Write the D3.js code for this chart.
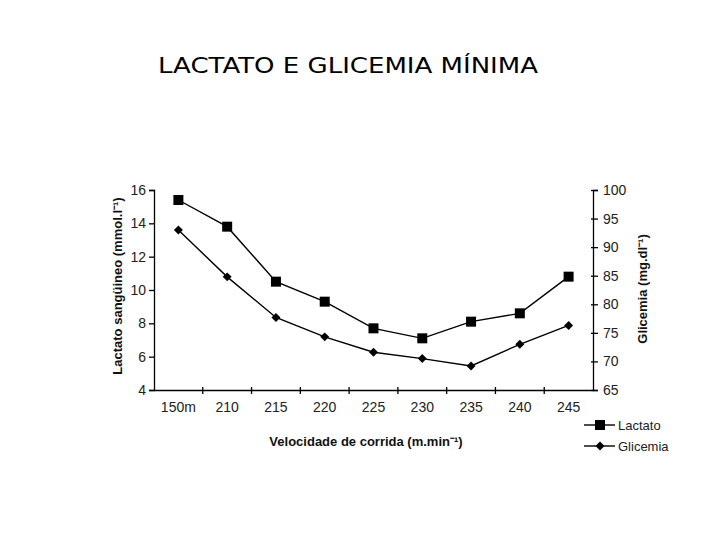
<!DOCTYPE html>
<html><head><meta charset="utf-8">
<script src="https://cdn.jsdelivr.net/npm/d3@7"></script>
<style>body{margin:0;background:#fff}</style>
</head><body>
<svg id="c" width="720" height="540"></svg>
<script>
const categories = ["150m","210","215","220","225","230","235","240","245"];
const lactato = [15.4,13.8,10.5,9.3,7.7,7.1,8.1,8.6,10.8];
const glicemia = [93,84.8,77.7,74.3,71.6,70.5,69.2,73.0,76.3];
const leftTicks = [4,6,8,10,12,14,16];
const rightTicks = [65,70,75,80,85,90,95,100];

const svg = d3.select("#c");
const L = 154, R = 593, T = 190, B = 390;
const x = d3.scaleBand().domain(categories).range([L,R]);
const yL = d3.scaleLinear().domain([4,16]).range([B,T]);
const yR = d3.scaleLinear().domain([65,100]).range([B,T]);
const font = "Liberation Sans, Arial, sans-serif";

svg.append("text").attr("x",158).attr("y",73).attr("font-family","DejaVu Sans, sans-serif")
  .attr("font-size",20.5).attr("fill","#000").attr("textLength",380).attr("lengthAdjust","spacingAndGlyphs")
  .text("LACTATO E GLICEMIA MÍNIMA");

// axes
const gL = svg.append("g").attr("transform",`translate(${L},0)`)
  .call(d3.axisLeft(yL).tickValues(leftTicks).tickSize(5).tickPadding(3));
const gR = svg.append("g").attr("transform",`translate(${R},0)`)
  .call(d3.axisRight(yR).tickValues(rightTicks).tickSize(5).tickPadding(5));
const gX = svg.append("g").attr("transform",`translate(0,${B})`)
  .call(d3.axisBottom(x).tickSize(0).tickPadding(12));
[gL,gR,gX].forEach(g=>{
  g.select(".domain").attr("stroke","#000").attr("stroke-width",1.3);
  g.selectAll(".tick line").attr("stroke","#000").attr("stroke-width",1.3);
  g.selectAll("text").attr("font-family",font).attr("font-size",14).attr("fill","#222");
});
gL.selectAll(".tick line").attr("x1",1);
gR.selectAll(".tick line").attr("x1",-2);
// x ticks at band boundaries
const bounds = categories.slice(1).map(c=>x(c));
gX.selectAll(".bt").data(bounds).enter().append("line")
  .attr("x1",d=>d).attr("x2",d=>d).attr("y1",-3).attr("y2",4)
  .attr("stroke","#000").attr("stroke-width",1.3);

// axis titles
svg.append("text").attr("transform","translate(122,286) rotate(-90)").attr("text-anchor","middle")
  .attr("font-family",font).attr("font-weight","bold").attr("font-size",13).attr("fill","#111")
  .text("Lactato sangüineo (mmol.l⁻¹)");
svg.append("text").attr("transform","translate(647,289) rotate(-90)").attr("text-anchor","middle")
  .attr("font-family",font).attr("font-weight","bold").attr("font-size",13).attr("fill","#111")
  .text("Glicemia (mg.dl⁻¹)");
svg.append("text").attr("x",366).attr("y",446).attr("text-anchor","middle")
  .attr("font-family",font).attr("font-weight","bold").attr("font-size",13).attr("fill","#111")
  .text("Velocidade de corrida (m.min⁻¹)");

const cx = c => x(c) + x.bandwidth()/2;
// lines
svg.append("path").datum(lactato).attr("fill","none").attr("stroke","#000").attr("stroke-width",1.4)
  .attr("d",d3.line().x((d,i)=>cx(categories[i])).y(d=>yL(d)));
svg.append("path").datum(glicemia).attr("fill","none").attr("stroke","#000").attr("stroke-width",1.4)
  .attr("d",d3.line().x((d,i)=>cx(categories[i])).y(d=>yR(d)));
// markers
const sq = d3.symbol().type(d3.symbolSquare).size(100);
const dm = d3.symbol().type(d3.symbolSquare).size(40);
svg.selectAll(".ml").data(lactato).enter().append("path")
  .attr("transform",(d,i)=>`translate(${cx(categories[i])},${yL(d)})`).attr("d",sq).attr("fill","#000");
svg.selectAll(".mg").data(glicemia).enter().append("path")
  .attr("transform",(d,i)=>`translate(${cx(categories[i])},${yR(d)}) rotate(45)`).attr("d",dm).attr("fill","#000");

// legend
const leg = [{n:"Lactato",s:sq,y:425,r:0},{n:"Glicemia",s:dm,y:446,r:45}];
leg.forEach(l=>{
  svg.append("line").attr("x1",584).attr("x2",615).attr("y1",l.y).attr("y2",l.y).attr("stroke","#000").attr("stroke-width",1.4);
  svg.append("path").attr("transform",`translate(600,${l.y}) rotate(${l.r})`).attr("d",l.s).attr("fill","#000");
  svg.append("text").attr("x",618).attr("y",l.y+4.5).attr("font-family",font).attr("font-size",13).attr("fill","#222").text(l.n);
});
</script>
</body></html>
